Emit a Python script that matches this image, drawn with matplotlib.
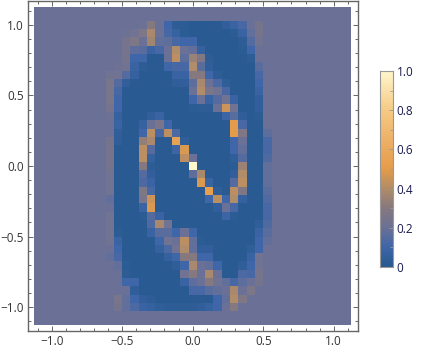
import numpy as np
import matplotlib.pyplot as plt
from matplotlib.colors import LinearSegmentedColormap

# hundredths, top row to bottom row, columns -10..9 around the centre cell
rows = [
    [20,20,20,20,21,30,20,10,3,2,1,1,1,1,5,8,12,20,24,20],
    [20,20,21,22,27,38,20,12,7,2,1,1,1,1,1,2,8,18,24,20],
    [20,20,24,27,20,36,18,17,12,10,10,1,1,1,1,1,3,15,23,20],
    [20,20,24,17,16,8,12,20,40,20,18,6,1,1,1,1,2,10,20,20],
    [20,20,24,10,10,1,1,20,42,17,34,28,3,1,1,1,1,3,20,20],
    [20,21,23,8,3,1,1,10,12,12,40,16,4,1,1,1,1,1,16,20],
    [22,22,15,6,1,1,1,1,8,8,30,30,10,3,1,1,1,1,12,20],
    [25,15,5,1,1,1,1,1,4,5,17,38,20,13,4,1,1,1,10,20],
    [25,12,1,1,1,1,1,1,1,1,20,40,25,22,12,1,1,1,8,20],
    [25,10,1,1,1,1,1,1,1,1,10,20,8,15,22,8,1,1,5,20],
    [24,10,1,1,1,1,1,1,1,1,2,3,3,20,45,22,1,1,5,20],
    [21,6,1,1,1,5,8,1,1,1,1,1,1,1,9,16,4,1,2,20],
    [20,8,1,1,7,20,25,10,1,1,1,1,1,1,1,50,12,1,1,20],
    [20,4,1,1,10,42,12,42,13,1,1,1,1,1,1,50,28,1,1,17],
    [24,4,1,1,33,38,1,1,55,4,1,1,1,1,1,10,20,1,1,12],
    [24,1,1,1,42,15,1,1,9,48,1,1,1,1,1,10,18,1,1,12],
    [24,1,1,1,42,6,1,1,1,42,20,1,1,1,1,4,15,1,1,14],
    [24,1,1,1,30,3,1,1,1,1,100,1,1,1,1,2,35,1,1,18],
    [22,1,1,1,15,5,1,1,1,1,17,38,1,1,1,5,40,1,1,18],
    [22,1,1,1,13,8,1,1,1,1,1,48,8,1,1,15,42,1,1,18],
    [22,1,1,1,28,12,1,1,1,1,1,1,52,4,1,42,28,1,1,16],
    [18,1,1,1,25,45,1,1,1,1,1,1,10,42,10,40,6,1,1,14],
    [20,1,1,1,8,48,1,1,1,1,1,1,1,5,20,12,1,1,1,12],
    [22,1,1,1,2,15,8,1,1,1,1,1,1,1,9,2,1,1,1,12],
    [22,1,1,1,1,14,38,22,1,1,1,1,1,1,1,1,1,1,4,14],
    [22,2,1,1,1,8,16,16,10,20,10,1,1,1,1,1,1,1,8,16],
    [22,8,1,1,1,1,10,22,20,42,18,2,1,1,1,1,1,1,10,18],
    [20,10,1,1,1,1,6,13,22,40,18,5,5,1,1,1,1,4,10,20],
    [18,12,1,1,1,1,1,6,10,30,30,10,10,1,1,1,1,8,22,20],
    [20,18,2,1,1,1,1,1,4,10,38,20,18,10,1,1,4,10,22,20],
    [20,20,3,1,1,1,1,1,1,22,30,20,38,20,1,1,13,12,24,20],
    [20,20,10,10,1,1,1,1,1,8,17,20,30,22,18,12,17,20,24,20],
    [20,20,20,4,1,1,1,1,1,1,12,12,16,18,20,38,20,26,20,20],
    [20,25,18,10,5,3,1,1,1,1,1,1,1,10,18,40,28,20,20,20],
    [20,24,18,13,8,6,4,3,3,3,3,5,7,10,20,30,20,20,20,20],
]
background = 0.2
xticks = [-1.0, -0.5, 0.0, 0.5, 1.0]
cbar_ticks = [0, 0.2, 0.4, 0.6, 0.8, 1.0]
cbar_labels = ['0', '0.2', '0.4', '0.6', '0.8', '1.0']

plt.rcParams['font.family'] = ['Open Sans', 'DejaVu Sans']

cmap = LinearSegmentedColormap.from_list('rust', [
    (0.0, '#27598f'), (0.1, '#3f66a8'), (0.2, '#6b7196'), (0.3, '#86797f'),
    (0.4, '#b18c68'), (0.5, '#e59c4a'), (0.6, '#eba95e'), (0.8, '#f6ca85'),
    (1.0, '#fff6cc')])

Z = np.full((39, 39), background)
Z[2:37, 9:29] = np.array(rows) / 100

edges = np.clip((np.arange(40) - 19.5) / 17, -1.125, 1.125)

fig = plt.figure(figsize=(4.22, 3.52), dpi=100)
ax = fig.add_axes([27.7 / 422, 21 / 352, 330 / 422, 330 / 352])
ax.pcolormesh(edges, edges[::-1], Z, cmap=cmap, vmin=0, vmax=1, antialiased=False, linewidth=0)
ax.set_xlim(-1.17, 1.17)
ax.set_ylim(-1.17, 1.17)

ax.set_xticks(xticks)
ax.set_yticks(xticks)
ax.set_xticks(np.arange(-11, 12) / 10, minor=True)
ax.set_yticks(np.arange(-11, 12) / 10, minor=True)
ax.tick_params(which='both', direction='in', top=True, right=True, color='#666666', width=0.7)
ax.tick_params(which='major', length=3.5, labelsize=8.5, labelcolor='#333333', pad=3)
ax.tick_params(which='minor', length=2)
for s in ax.spines.values():
    s.set_color('#666666')
    s.set_linewidth(1)

# colour bar
cax = fig.add_axes([379.5 / 422, (352 - 267) / 352, 13 / 422, 196 / 352])
cax.imshow(np.linspace(1, 0, 256)[:, None], cmap=cmap, vmin=0, vmax=1, aspect='auto', extent=[0, 1, 0, 1])
cax.set_xticks([])
cax.yaxis.tick_right()
cax.set_yticks(cbar_ticks)
cax.set_yticklabels(cbar_labels)
cax.set_yticks(np.arange(0, 11) / 10, minor=True)
cax.tick_params(which='both', direction='in', color='#999999', width=0.6)
cax.tick_params(which='major', length=3, labelsize=8.5, labelcolor='#1a1a50', pad=3)
cax.tick_params(which='minor', length=2)
for s in cax.spines.values():
    s.set_color('#999999')
    s.set_linewidth(0.8)

fig.savefig('out.png', dpi=100)
